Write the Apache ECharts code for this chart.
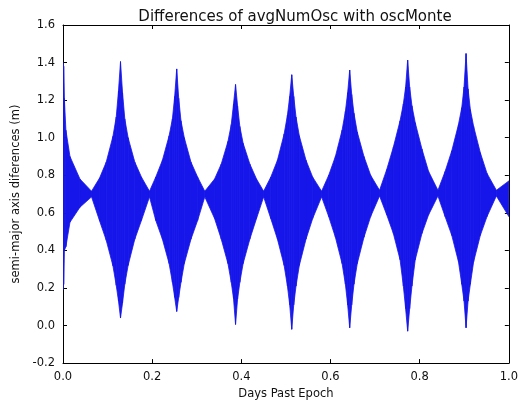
<!DOCTYPE html>
<html>
<head>
<meta charset="utf-8">
<script src="https://cdn.jsdelivr.net/npm/echarts@6/dist/echarts.min.js"></script>
<style>html,body{margin:0;padding:0;background:#fff;}#c{width:521px;height:405px;}</style>
</head>
<body>
<div id="c"></div>
<script>
// Envelope of the oscillating difference signal
var days = [
0, 0.0015, 0.003, 0.0065, 0.0156, 0.038, 0.064,
0.082, 0.097, 0.112, 0.1194, 0.1245, 0.129, 0.1335, 0.1386, 0.146, 0.161, 0.176, 0.194,
0.208, 0.223, 0.238, 0.2454, 0.2505, 0.255, 0.2595, 0.2646, 0.272, 0.287, 0.302, 0.318,
0.340, 0.355, 0.370, 0.3774, 0.3825, 0.387, 0.3915, 0.3966, 0.404, 0.419, 0.434, 0.450,
0.466, 0.481, 0.496, 0.5034, 0.5085, 0.513, 0.5175, 0.5226, 0.530, 0.545, 0.560, 0.580,
0.596, 0.611, 0.626, 0.6334, 0.6385, 0.643, 0.6475, 0.6526, 0.660, 0.675, 0.690, 0.710,
0.726, 0.741, 0.756, 0.7634, 0.7685, 0.773, 0.7775, 0.7826, 0.790, 0.805, 0.820, 0.841,
0.857, 0.872, 0.887, 0.8944, 0.8995, 0.904, 0.9085, 0.9136, 0.921, 0.936, 0.951, 0.972,
1.0];
var upper = [
1.40, 1.38, 1.21, 1.04, 0.90, 0.78, 0.715,
0.785, 0.87, 1.007, 1.11, 1.25, 1.405, 1.24, 1.10, 1.00, 0.87, 0.79, 0.715,
0.79, 0.88, 1.01, 1.10, 1.22, 1.366, 1.21, 1.09, 1.00, 0.87, 0.79, 0.715,
0.78, 0.86, 0.98, 1.07, 1.18, 1.283, 1.17, 1.06, 0.97, 0.86, 0.78, 0.715,
0.79, 0.88, 1.02, 1.12, 1.22, 1.335, 1.22, 1.11, 1.01, 0.88, 0.79, 0.715,
0.80, 0.90, 1.04, 1.14, 1.24, 1.36, 1.23, 1.13, 1.03, 0.90, 0.80, 0.72,
0.83, 0.95, 1.09, 1.18, 1.27, 1.413, 1.27, 1.17, 1.08, 0.94, 0.82, 0.72,
0.82, 0.93, 1.07, 1.16, 1.27, 1.448, 1.26, 1.15, 1.06, 0.92, 0.81, 0.72,
0.77];
var lower = [
0.19, 0.22, 0.40, 0.42, 0.55, 0.63, 0.685,
0.558, 0.454, 0.318, 0.214, 0.13, 0.04, 0.12, 0.22, 0.32, 0.46, 0.56, 0.685,
0.56, 0.46, 0.33, 0.23, 0.15, 0.075, 0.15, 0.23, 0.33, 0.46, 0.56, 0.685,
0.57, 0.46, 0.33, 0.23, 0.143, 0.006, 0.14, 0.23, 0.33, 0.46, 0.57, 0.685,
0.57, 0.46, 0.32, 0.21, 0.11, -0.02, 0.11, 0.21, 0.32, 0.46, 0.57, 0.685,
0.58, 0.47, 0.33, 0.22, 0.11, -0.012, 0.11, 0.22, 0.33, 0.47, 0.58, 0.69,
0.59, 0.49, 0.35, 0.21, 0.09, -0.03, 0.09, 0.21, 0.35, 0.49, 0.59, 0.69,
0.58, 0.48, 0.34, 0.22, 0.13, -0.012, 0.13, 0.22, 0.34, 0.48, 0.58, 0.69,
0.58];
var xTicks = [0.0, 0.2, 0.4, 0.6, 0.8, 1.0];
var yTicks = [-0.2, 0.0, 0.2, 0.4, 0.6, 0.8, 1.0, 1.2, 1.4, 1.6];

var bandData = days.map(function (d, i) { return [d, upper[i], lower[i]]; });

var FONT = 'DejaVu Sans';
var BLUE = '#1616ea';
var chart = echarts.init(document.getElementById('c'), null, {renderer: 'canvas'});
function axisCommon(extra) {
  var o = {
    type: 'value',
    splitLine: {show: false},
    axisLine: {show: true, onZero: false, lineStyle: {color: '#000', width: 1}},
    axisTick: {show: true, inside: true, length: 4, lineStyle: {color: '#000', width: 1}},
    axisLabel: {show: true, color: '#111', fontFamily: FONT, fontSize: 11.5,
      formatter: function (v) { return v.toFixed(1); }},
    nameTextStyle: {color: '#111', fontFamily: FONT, fontSize: 11.5}
  };
  for (var k in extra) o[k] = extra[k];
  return o;
}
chart.setOption({
  animation: false,
  backgroundColor: '#fff',
  title: {
    text: 'Differences of avgNumOsc with oscMonte',
    left: 290, top: 5, textAlign: 'center',
    textStyle: {fontFamily: FONT, fontSize: 15, fontWeight: 'normal', color: '#111'}
  },
  grid: {left: 63, right: 9, top: 25, bottom: 32, containLabel: false},
  xAxis: [
    axisCommon({min: xTicks[0], max: xTicks[xTicks.length - 1], interval: 0.2, position: 'bottom',
      name: 'Days Past Epoch', nameLocation: 'middle', nameGap: 14}),
    axisCommon({min: xTicks[0], max: xTicks[xTicks.length - 1], interval: 0.2, position: 'top',
      axisLabel: {show: false}})
  ],
  yAxis: [
    axisCommon({min: yTicks[0], max: yTicks[yTicks.length - 1], interval: 0.2, position: 'left',
      name: 'semi-major axis diferences (m)', nameLocation: 'middle', nameGap: 30, nameRotate: 90}),
    axisCommon({min: yTicks[0], max: yTicks[yTicks.length - 1], interval: 0.2, position: 'right',
      axisLabel: {show: false}})
  ],
  series: [
    {
      type: 'custom',
      data: bandData,
      xAxisIndex: 0, yAxisIndex: 0,
      encode: {x: 0, y: [1, 2]},
      silent: true,
      clip: true,
      renderItem: function (params, api) {
        var i = params.dataIndex;
        if (i >= days.length - 1) return null;
        var a = api.coord([days[i], upper[i]]);
        var b = api.coord([days[i + 1], upper[i + 1]]);
        var c = api.coord([days[i + 1], lower[i + 1]]);
        var d = api.coord([days[i], lower[i]]);
        return {
          type: 'polygon',
          shape: {points: [a, b, c, d]},
          style: {fill: BLUE, stroke: BLUE, lineWidth: 0.8}
        };
      }
    }
  ]
});
</script>
</body>
</html>
